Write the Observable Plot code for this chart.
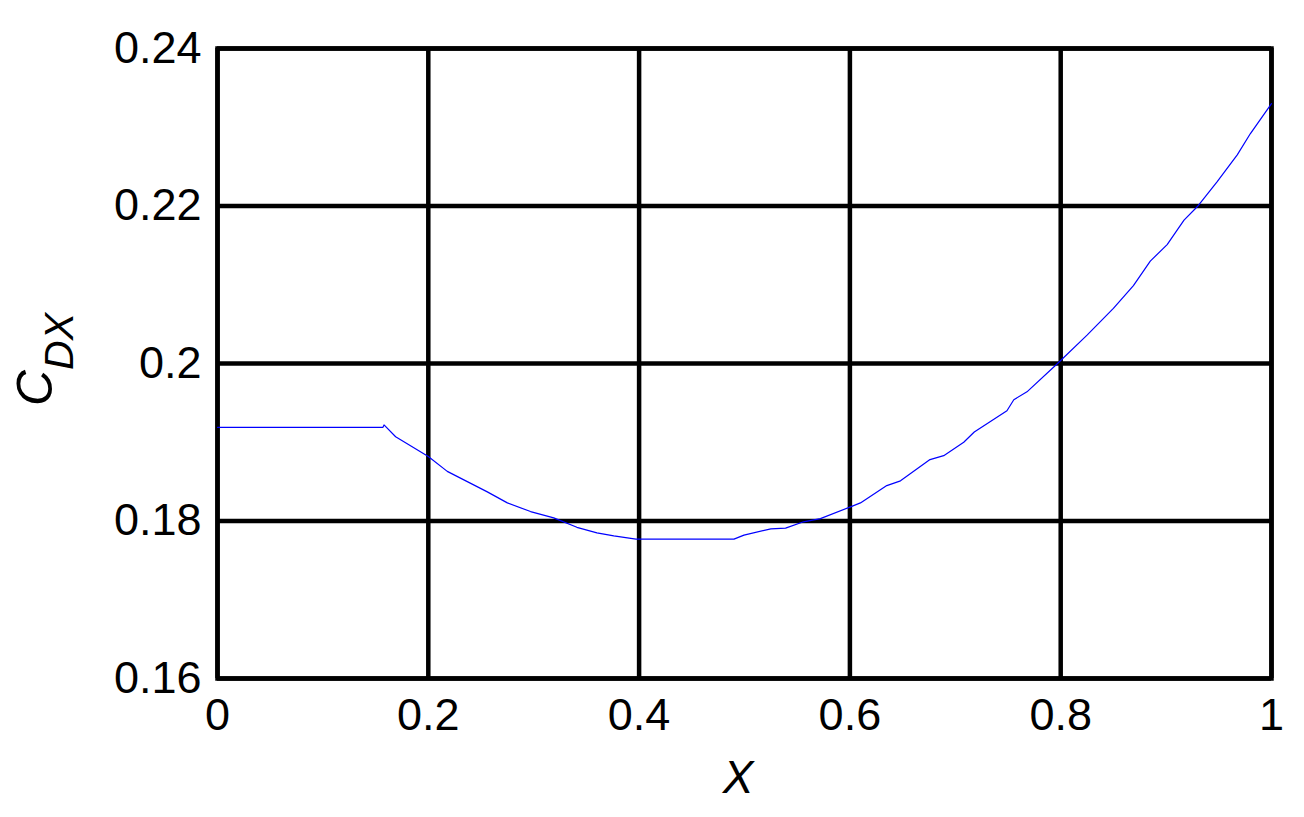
<!DOCTYPE html>
<html>
<head>
<meta charset="utf-8">
<script src="https://cdn.jsdelivr.net/npm/d3@7"></script>
<script src="https://cdn.jsdelivr.net/npm/@observablehq/plot@0.6"></script>
<style>
  html, body { margin: 0; padding: 0; background: #fff; }
  #chart { width: 1304px; height: 817px; }
</style>
</head>
<body>
<div id="chart"></div>
<script>
const xValues = [0, 0.157, 0.158, 0.169, 0.2, 0.218, 0.237, 0.256, 0.275, 0.297, 0.319, 0.341, 0.360, 0.376, 0.397,
  0.490, 0.4995, 0.525, 0.539, 0.556, 0.572, 0.6006, 0.610, 0.635, 0.648, 0.676, 0.689, 0.708, 0.718, 0.749,
  0.7555, 0.768, 0.797, 0.825, 0.850, 0.869, 0.885, 0.901, 0.917, 0.9295, 0.9485, 0.9675, 0.980, 1.0];
const cdxValues = [0.1919, 0.1919, 0.1922, 0.1907, 0.1882, 0.1863, 0.1850, 0.1837, 0.1823, 0.1812, 0.1804, 0.1792, 0.1785, 0.1781, 0.1777,
  0.1777, 0.1782, 0.1790, 0.1791, 0.1799, 0.1803, 0.1818, 0.1823, 0.1845, 0.1851, 0.1878, 0.1883, 0.1900, 0.1913, 0.1940,
  0.1954, 0.1964, 0.2000, 0.2036, 0.2070, 0.2099, 0.2130, 0.2151, 0.2182, 0.2199, 0.2231, 0.2265, 0.2292, 0.2330];
const xTicks = [0, 0.2, 0.4, 0.6, 0.8, 1];
const xTickLabels = ["0", "0.2", "0.4", "0.6", "0.8", "1"];
const yTicks = [0.16, 0.18, 0.2, 0.22, 0.24];
const yTickLabels = ["0.16", "0.18", "0.2", "0.22", "0.24"];

const data = xValues.map((x, i) => ({x, y: cdxValues[i]}));

const W = 1304, H = 817;
const mL = 217, mR = 33, mT = 48, mB = 139;

const plot = Plot.plot({
  width: W,
  height: H,
  marginLeft: mL,
  marginRight: mR,
  marginTop: mT,
  marginBottom: mB,
  style: { fontFamily: "'Liberation Sans', Arial, sans-serif", fontSize: "45px", background: "#fff", color: "#000" },
  x: { domain: [0, 1], label: null },
  y: { domain: [0.16, 0.24], label: null },
  marks: [
    Plot.gridX(xTicks, { stroke: "#000", strokeOpacity: 1, strokeWidth: 4.5 }),
    Plot.gridY(yTicks, { stroke: "#000", strokeOpacity: 1, strokeWidth: 4.5 }),
    Plot.frame({ stroke: "#000", strokeWidth: 4.5 }),
    Plot.line(data, { x: "x", y: "y", stroke: "#0000ff", strokeWidth: 1.2 }),
    Plot.axisX({ ticks: xTicks, tickFormat: (d, i) => xTickLabels[xTicks.indexOf(d)], tickSize: 0, tickPadding: 20, fontSize: 45, label: null }),
    Plot.axisY({ ticks: yTicks, tickFormat: (d) => yTickLabels[yTicks.findIndex(t => Math.abs(t - d) < 1e-9)], tickSize: 0, tickPadding: 16, fontSize: 45, label: null })
  ]
});

document.getElementById("chart").appendChild(plot);

const svg = d3.select(plot);
// X axis label
svg.append("text")
  .attr("x", 738)
  .attr("y", 793)
  .attr("text-anchor", "middle")
  .style("font-family", "'Liberation Sans', Arial, sans-serif")
  .style("font-size", "46px")
  .style("font-style", "italic")
  .attr("fill", "#000")
  .text("X");

// Y axis label C_DX
const yl = svg.append("text")
  .attr("transform", "translate(52,406) rotate(-90)")
  .attr("text-anchor", "start")
  .style("font-family", "'Liberation Sans', Arial, sans-serif")
  .style("font-style", "italic")
  .attr("fill", "#000");
yl.append("tspan").style("font-size", "50px").text("C");
yl.append("tspan").attr("dy", 21).style("font-size", "41px").text("DX");
</script>
</body>
</html>
